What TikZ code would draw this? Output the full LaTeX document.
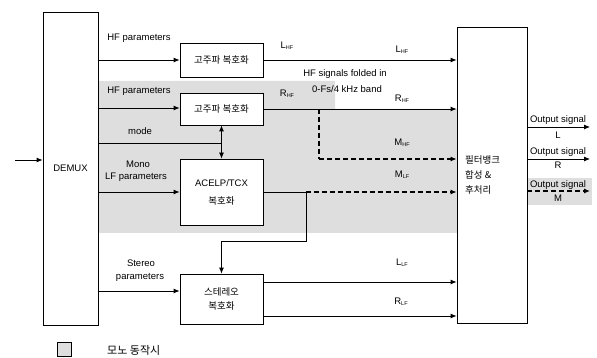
\documentclass[tikz,border=0pt]{standalone}
\usepackage{fontspec}
\setmainfont{Liberation Sans}
\newfontfamily\kr{Noto Sans CJK KR}
\usetikzlibrary{arrows.meta}
\newcommand\sgsub[1]{\raisebox{-0.15ex}{\fontsize{5.5}{6}\selectfont #1}}
\begin{document}
\begin{tikzpicture}[x=1pt,y=-1pt,
  box/.style={draw, line width=0.8pt, fill=white, inner sep=0pt, align=center},
  lbl/.style={inner sep=0pt, font=\fontsize{9.5}{11}\selectfont},
  conn/.style={line width=0.8pt},
  arr/.style={conn, -{Latex[length=6pt,width=5pt]}},
  dsh/.style={line width=1.1pt, dash pattern=on 5pt off 3pt},
  shadearea/.style={fill=black!13, draw=none}]
\useasboundingbox (0,0) rectangle (597,358);
% shaded mono area
\fill[shadearea] (98,81) -- (335,81) -- (335,109) -- (457,109) -- (457,233) -- (98,233) -- cycle;
\fill[shadearea] (527,178) rectangle (592,205);
% boxes
\node[box, minimum width=55, minimum height=313, font=\fontsize{9.5}{11}\selectfont] (demux) at (70.5,168.5) {DEMUX};
\node[box, minimum width=83, minimum height=34, font=\kr\fontsize{9.5}{11}\selectfont] (hf1) at (221.5,60) {고주파 복호화};
\node[box, minimum width=83, minimum height=32, font=\kr\fontsize{9.5}{11}\selectfont] (hf2) at (221.5,109) {고주파 복호화};
\node[box, minimum width=83, minimum height=66, font=\fontsize{9.5}{18}\selectfont] (acelp) at (221.5,192) {ACELP/TCX\\{\kr 복호화}};
\node[box, minimum width=83, minimum height=50, font=\kr\fontsize{9.5}{14}\selectfont] (stereo) at (221.5,299) {스테레오\\복호화};
\node[box, minimum width=70, minimum height=296] (fb) at (492,175) {};
\node[anchor=west, inner sep=0pt, align=left, font=\kr\fontsize{9.5}{15}\selectfont] (fbtext) at (465,175) {필터뱅크\\합성 \&\\후처리};
% coordinates
\coordinate (in) at (15,160);
\coordinate (hfp2) at (98,108);
\coordinate (modes) at (98,143);
\coordinate (modee) at (221.5,143);
\coordinate (stp) at (98,291);
\coordinate (rj) at (319,109);
\coordinate (rd) at (319,159);
\coordinate (aj) at (306,192);
\coordinate (ad) at (306,241);
\coordinate (ac) at (221.5,241);
\coordinate (llf) at (263,282);
\coordinate (rlf) at (263,316);
\coordinate (ol) at (590,127);
\coordinate (or) at (590,159);
\coordinate (om) at (590,191);
% connectors
\draw[arr] (in) -- (in -| demux.west) ;
\draw[arr] (hf1.west -| demux.east) -- (hf1.west);
\draw[arr] (hfp2) -- (hfp2 -| hf2.west);
\draw[conn] (modes) -- (modee);
\draw[conn, {Latex[length=6pt,width=5pt]}-{Latex[length=6pt,width=5pt]}] (hf2.south) -- (acelp.north);
\draw[arr] (acelp.west -| demux.east) -- (acelp.west);
\draw[arr] (stp) -- (stp -| stereo.west);
\draw[arr] (hf1.east) -- (hf1.east -| fb.west);
\draw[arr] (hf2.east) -- (hf2.east -| fb.west);
\draw[dsh] (rj) -- (rd);
\draw[dsh, -{Latex[length=6pt,width=5pt]}] (rd) -- (rd -| fb.west);
\draw[conn] (acelp.east) -- (aj);
\draw[dsh, -{Latex[length=6pt,width=5pt]}] (aj) -- (aj -| fb.west);
\draw[conn, -{Latex[length=6pt,width=5pt]}] (aj) -- (ad) -- (ac) -- (stereo.north);
\draw[arr] (llf) -- (llf -| fb.west);
\draw[arr] (rlf) -- (rlf -| fb.west);
\draw[arr] (ol -| fb.east) -- (ol);
\draw[arr] (or -| fb.east) -- (or);
\draw[dsh, -{Latex[length=6pt,width=5pt]}] (om -| fb.east) -- (om);
% labels
\node[lbl] (l1) at (139,38) {HF parameters};
\node[lbl] (l2) at (139,91) {HF parameters};
\node[lbl] (l3) at (140,131) {mode};
\node[lbl] (l4) at (138,164) {Mono};
\node[lbl] (l5) at (136,177) {LF parameters};
\node[lbl] (l6) at (141,263) {Stereo};
\node[lbl] (l7) at (140,277) {parameters};
\node[lbl] (l8) at (287,46) {L\sgsub{HF}};
\node[lbl] (l9) at (402,50) {L\sgsub{HF}};
\node[lbl] (l10) at (287,94) {R\sgsub{HF}};
\node[lbl] (l11) at (402,99) {R\sgsub{HF}};
\node[lbl] (l12) at (345,74) {HF signals folded in};
\node[lbl] (l13) at (347,89) {0-Fs/4 kHz band};
\node[lbl] (l14) at (402,143) {M\sgsub{HF}};
\node[lbl] (l15) at (402,175) {M\sgsub{LF}};
\node[lbl] (l16) at (402,263) {L\sgsub{LF}};
\node[lbl] (l17) at (401,302) {R\sgsub{LF}};
\node[lbl] (o1) at (558,120) {Output signal};
\node[lbl] (o2) at (558,135) {L};
\node[lbl] (o3) at (558,152) {Output signal};
\node[lbl] (o4) at (558,165) {R};
\node[lbl] (o5) at (558,185) {Output signal};
\node[lbl] (o6) at (558,198) {M};
% legend
\node[draw, line width=0.6pt, fill=black!13, minimum width=14, minimum height=14, inner sep=0pt] (leg) at (64,349.5) {};
\node[inner sep=0pt, anchor=west, font=\kr\fontsize{11}{12}\selectfont] (legt) at (107,350) {모노 동작시};
\end{tikzpicture}
\end{document}
